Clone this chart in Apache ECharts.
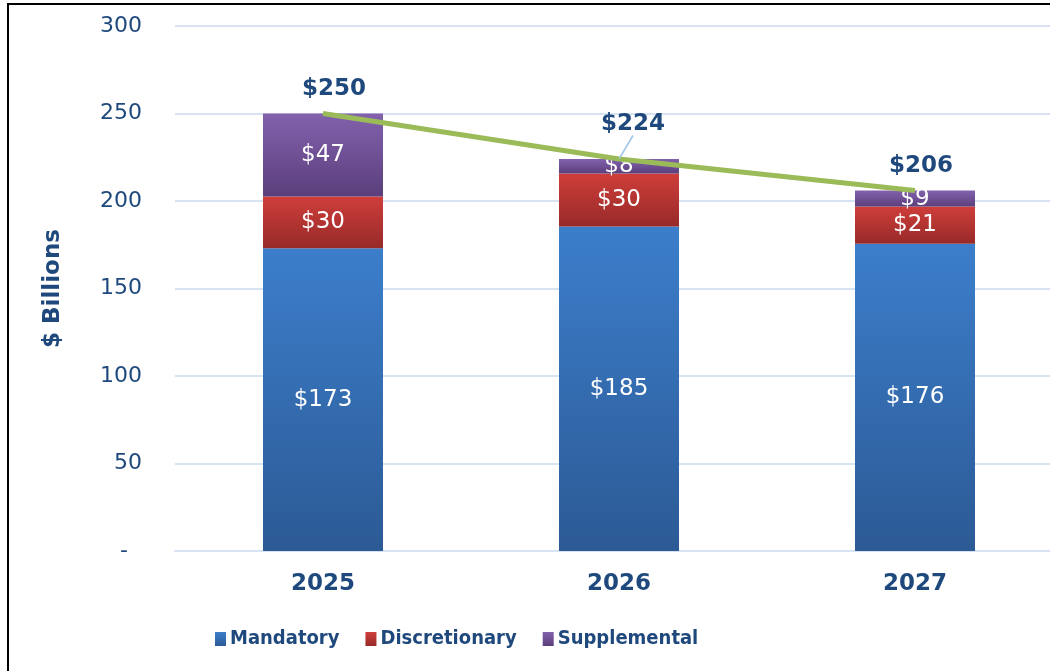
<!DOCTYPE html>
<html>
<head>
<meta charset="utf-8">
<script src="https://cdn.jsdelivr.net/npm/echarts@6/dist/echarts.min.js"></script>
<style>
  html, body { margin: 0; padding: 0; background: #fff; }
  #chart { width: 1050px; height: 671px; }
</style>
</head>
<body>
<div id="chart"></div>
<script>
const years = ["2025", "2026", "2027"];
const mandatory = [173, 185.4, 175.6];
const discretionary = [29.6, 30.3, 21.2];
const supplemental = [47.4, 8.3, 9.2];
const totals = [250, 224, 206];
const yTicks = [0, 50, 100, 150, 200, 250, 300];

const textBlue = "#1f497d";
const font = "DejaVu Sans";

const grad = (top, bottom) =>
  new echarts.graphic.LinearGradient(0, 0, 0, 1, [
    { offset: 0, color: top },
    { offset: 1, color: bottom },
  ]);

const barLabel = {
  show: true,
  position: "inside",
  color: "#fff",
  fontFamily: font,
  fontSize: 23,
  formatter: (p) => "$" + Math.round(p.value),
};

// only the 2026 total gets a leader line
const totalData = totals.map((v, i) => ({
  value: v,
  labelLine: { show: i === 1 },
}));

const chart = echarts.init(document.getElementById("chart"));

const option = {
  animation: false,
  grid: { left: 175, right: -13, top: 26, bottom: 120, outerBoundsMode: "none" },
  graphic: [
    {
      type: "rect",
      shape: { x: 8, y: 4, width: 1100, height: 720 },
      style: { fill: "none", stroke: "#000", lineWidth: 2 },
      z: 100,
    },
  ],
  legend: {
    left: 210,
    top: 624,
    icon: "rect",
    itemWidth: 11,
    itemHeight: 14,
    itemGap: 26,
    textStyle: {
      color: textBlue,
      fontFamily: "DejaVu Sans Condensed",
      fontWeight: "bold",
      fontSize: 20,
      padding: [0, 0, 0, -1],
    },
    data: ["Mandatory", "Discretionary", "Supplemental"],
  },
  xAxis: {
    type: "category",
    data: years,
    axisTick: { show: false },
    axisLine: { lineStyle: { color: "#d7e3f3", width: 2 } },
    axisLabel: {
      color: textBlue,
      fontFamily: font,
      fontWeight: "bold",
      fontSize: 23,
      margin: 22,
    },
  },
  yAxis: {
    type: "value",
    min: yTicks[0],
    max: yTicks[yTicks.length - 1],
    interval: 50,
    name: "$ Billions",
    nameLocation: "middle",
    nameGap: 110,
    nameTextStyle: {
      color: textBlue,
      fontFamily: font,
      fontWeight: "bold",
      fontSize: 23,
    },
    axisLine: { show: false },
    axisTick: { show: false },
    splitLine: { lineStyle: { color: "#d7e3f3", width: 2 } },
    axisLabel: {
      color: textBlue,
      fontFamily: font,
      fontSize: 22,
      margin: 33,
      formatter: (v) => (v === 0 ? "-  " : String(v)),
    },
  },
  series: [
    {
      name: "Mandatory",
      type: "bar",
      stack: "total",
      barWidth: 120,
      data: mandatory,
      itemStyle: { color: grad("#3c7ecb", "#2c5a95") },
      label: barLabel,
    },
    {
      name: "Discretionary",
      type: "bar",
      stack: "total",
      data: discretionary,
      itemStyle: { color: grad("#cf3e3a", "#972a29") },
      label: barLabel,
    },
    {
      name: "Supplemental",
      type: "bar",
      stack: "total",
      data: supplemental,
      itemStyle: { color: grad("#8361ad", "#5b3f7c") },
      label: barLabel,
    },
    {
      name: "Total",
      type: "line",
      data: totalData,
      symbol: "circle",
      symbolSize: 1,
      showSymbol: true,
      z: 5,
      itemStyle: { color: "#9bbb59" },
      lineStyle: { color: "#9bbb59", width: 5 },
      label: {
        show: true,
        position: "top",
        distance: 12,
        color: textBlue,
        fontFamily: font,
        fontWeight: "bold",
        fontSize: 23,
        formatter: (p) => "$" + p.value,
      },
      labelLine: { show: false, lineStyle: { color: "#9dc3e6", width: 1.5 } },
      labelLayout: (p) =>
        p.dataIndex === 1 ? { dx: 14, dy: -11 } : { dx: p.dataIndex === 0 ? 11 : 6 },
    },
  ],
};

chart.setOption(option);
</script>
</body>
</html>
